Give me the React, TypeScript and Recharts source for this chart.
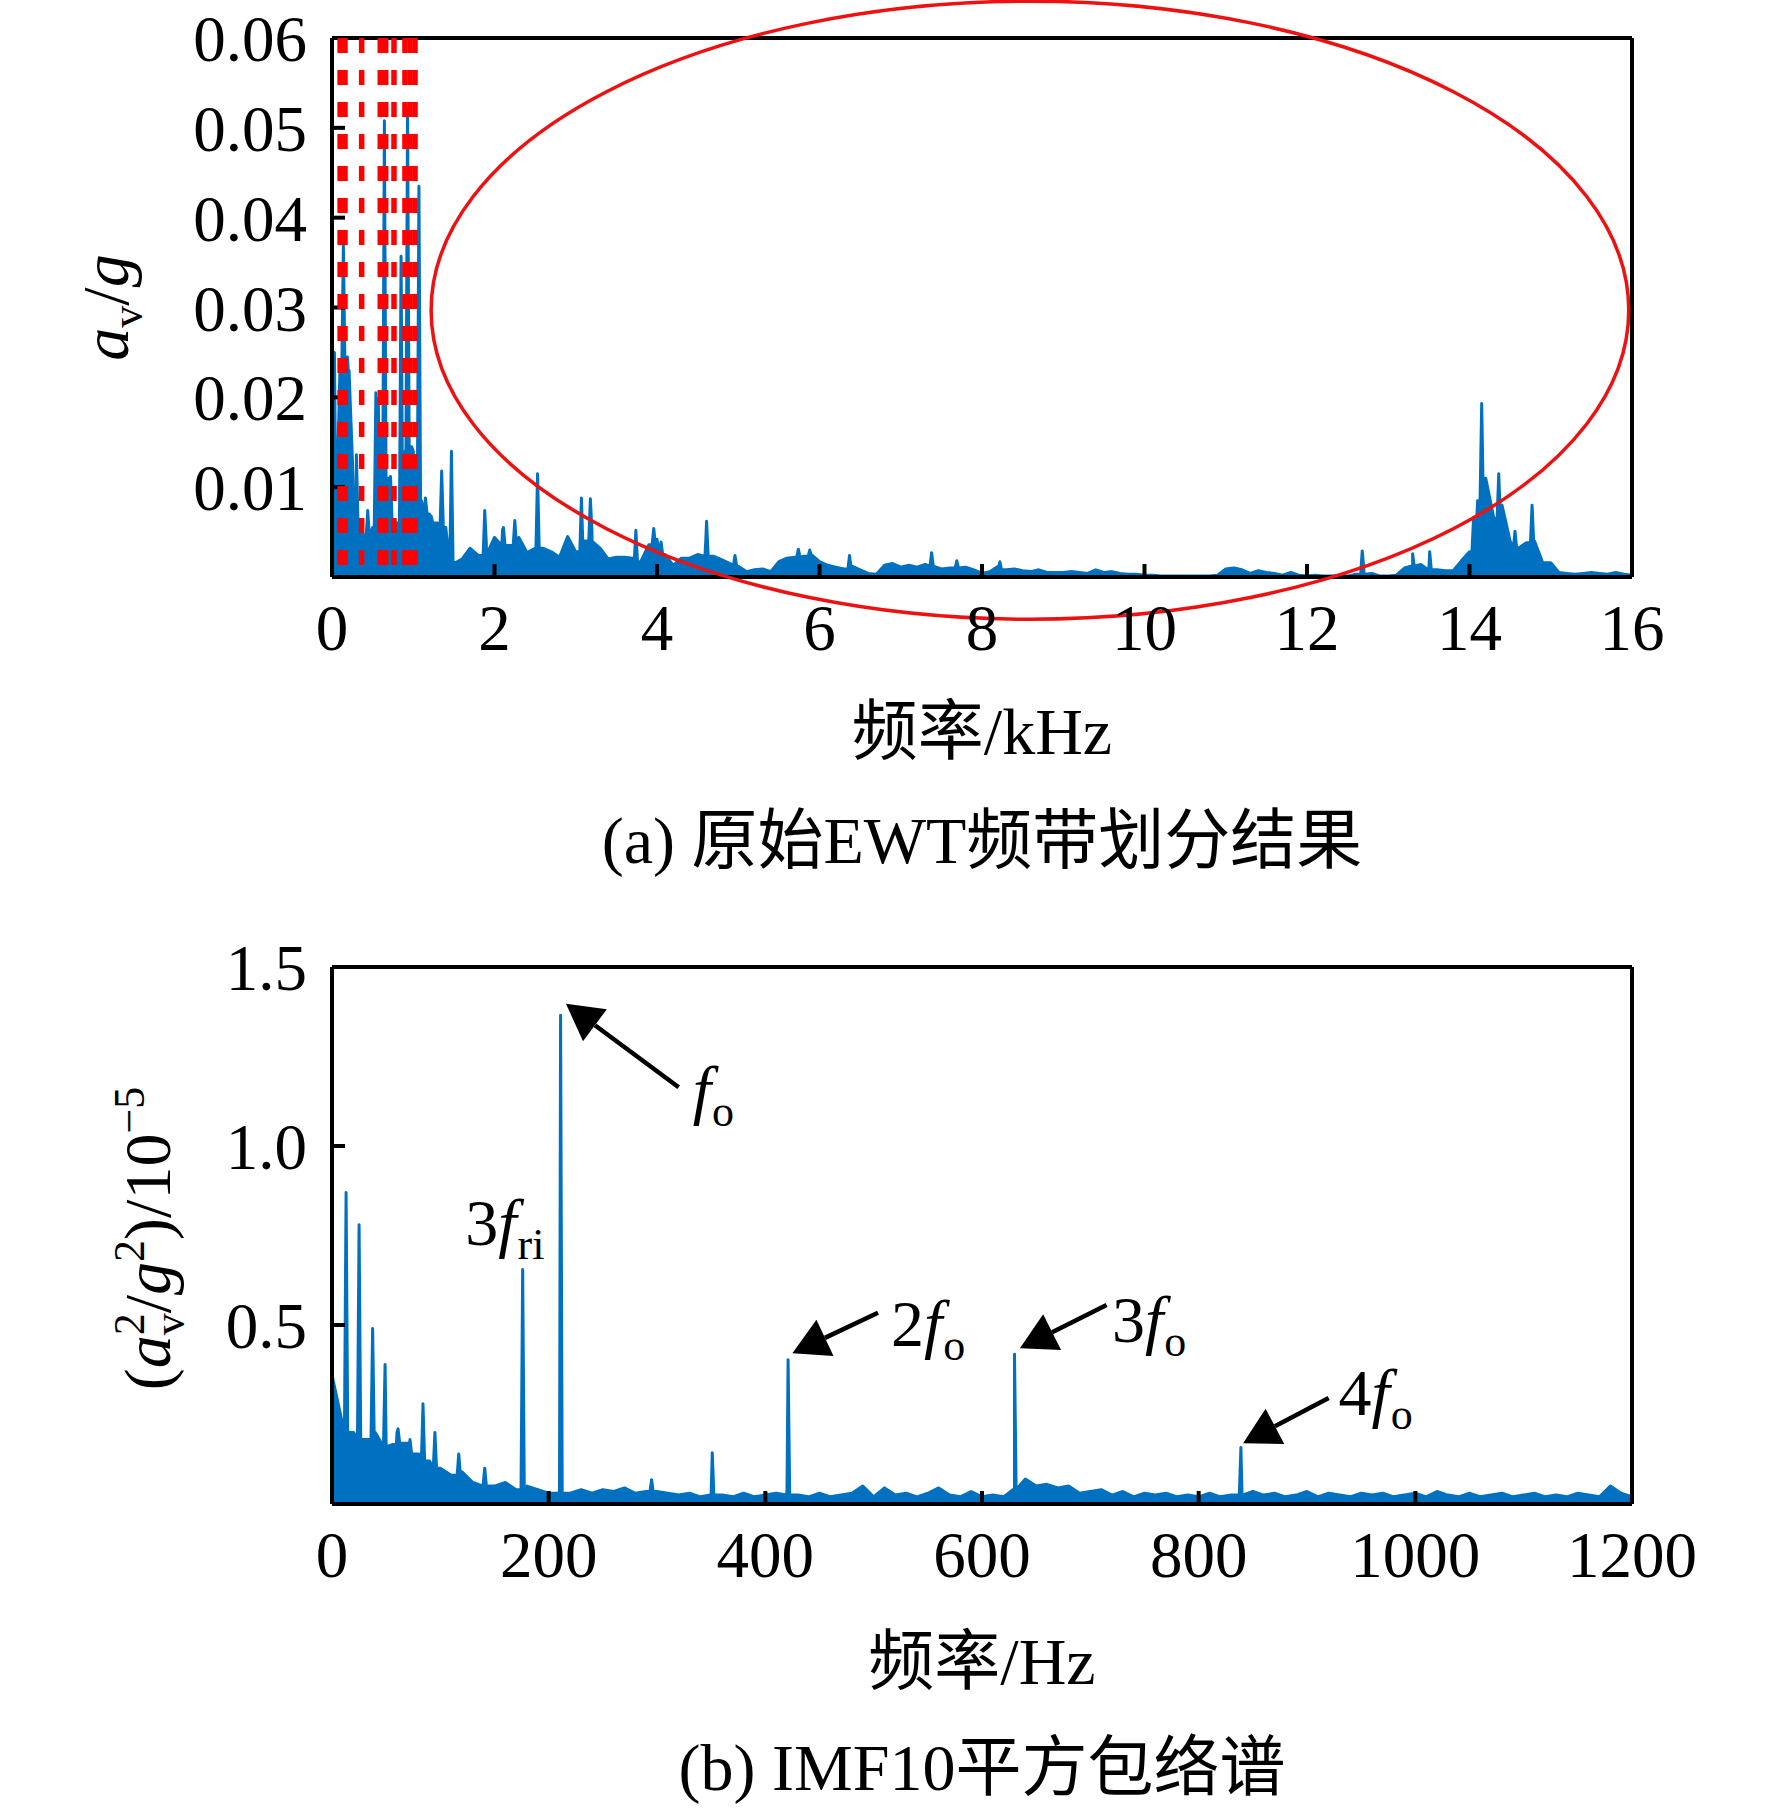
import React from 'react';
import {
  ComposedChart,
  Area,
  XAxis,
  YAxis,
  ReferenceLine,
  ReferenceArea,
  ReferenceDot,
} from 'recharts';

const serif = "'Liberation Serif', 'Times New Roman', 'Noto Sans CJK SC', serif";
const blue = '#0070C0';
const red = '#ff0000';

// (a) spectrum 0-16 kHz, amplitude in 1e-4 g, one value every 0.1 kHz
const topStep = 0.1;
const topBase = [
  50, 240, 230, 60, 45, 55, 160, 110, 60, 140,
  140, 85, 70, 60, 55, 15, 20, 32, 24, 36,
  44, 53, 35, 44, 27, 32, 32, 28, 22, 45,
  28, 40, 50, 32, 20, 22, 22, 21, 17, 36,
  42, 25, 13, 21, 21, 25, 40, 23, 19, 15,
  12, 6, 8, 9, 6, 17, 21, 22, 23, 25,
  17, 13, 11, 9, 12, 8, 4, 3, 13, 15,
  11, 13, 11, 14, 12, 9, 10, 14, 11, 8,
  4, 6, 12, 8, 9, 7, 6, 8, 5, 5,
  5, 6, 5, 4, 8, 5, 6, 4, 3, 3,
  2, 2, 1, 1, 1, 1, 1, 1, 1, 2,
  9, 10, 8, 4, 7, 5, 4, 2, 5, 2,
  1, 2, 1, 1, 2, 1, 3, 8, 4, 1,
  1, 2, 10, 12, 14, 9, 8, 7, 7, 18,
  28, 85, 110, 65, 80, 40, 32, 38, 40, 16,
  16, 5, 4, 3, 4, 5, 4, 3, 5, 3,
  2,
];
// narrow spectral lines [kHz, 1e-4 g]
const topPeaks: [number, number][] = [
  [0.03, 250], [0.14, 369], [0.19, 245], [0.3, 136], [0.44, 74], [0.48, 50],
  [0.54, 205], [0.57, 199], [0.645, 508], [0.72, 112], [0.85, 357], [0.93, 520],
  [0.98, 145], [1.07, 435], [1.15, 88], [1.22, 68], [1.35, 118], [1.47, 140],
  [1.88, 74], [2.11, 55], [2.25, 63], [2.53, 115], [3.07, 88], [3.18, 87],
  [3.74, 52], [3.96, 54], [4.05, 39], [4.61, 62], [4.96, 24], [5.74, 31],
  [5.88, 30], [6.37, 24], [7.38, 27], [7.69, 18], [8.22, 17], [12.68, 29],
  [13.3, 26], [13.51, 28], [14.05, 66], [14.15, 193], [14.36, 115], [14.56, 51],
  [14.77, 80],
];
const topLineHalfWidth = 0.02;
const ewtBounds = [0.1, 0.16, 0.365, 0.594, 0.661, 0.763, 0.898, 0.96, 1.022];
const topXTicks = [0, 2, 4, 6, 8, 10, 12, 14, 16];
const topYTicks = [100, 200, 300, 400, 500, 600];
const ellipseBox = { x1: 1.22, x2: 15.96, y1: -47, y2: 641 };

// (b) squared envelope spectrum 0-1200 Hz, in 1e-5, one value every 10 Hz
const botStep = 10;
const botBase = [
  0.36, 0.22, 0.2, 0.18, 0.2, 0.16, 0.2, 0.17, 0.14, 0.12,
  0.1, 0.08, 0.09, 0.06, 0.07, 0.05, 0.06, 0.04, 0.05, 0.04,
  0.03, 0.04, 0.03, 0.04, 0.03, 0.04, 0.035, 0.045, 0.03, 0.035,
  0.035, 0.03, 0.025, 0.03, 0.02, 0.03, 0.025, 0.02, 0.03, 0.02,
  0.025, 0.03, 0.04, 0.025, 0.02, 0.03, 0.02, 0.025, 0.03, 0.05,
  0.02, 0.045, 0.025, 0.03, 0.02, 0.03, 0.045, 0.025, 0.02, 0.035,
  0.02, 0.025, 0.02, 0.04, 0.07, 0.05, 0.055, 0.045, 0.05, 0.03,
  0.035, 0.04, 0.025, 0.035, 0.02, 0.03, 0.025, 0.03, 0.02, 0.025,
  0.02, 0.03, 0.02, 0.025, 0.03, 0.035, 0.025, 0.03, 0.02, 0.025,
  0.035, 0.02, 0.03, 0.025, 0.02, 0.03, 0.025, 0.03, 0.02, 0.025,
  0.03, 0.02, 0.035, 0.025, 0.02, 0.03, 0.02, 0.025, 0.03, 0.02,
  0.025, 0.03, 0.02, 0.025, 0.02, 0.03, 0.025, 0.02, 0.05, 0.03,
  0.02,
];
const botPeaks: [number, number][] = [
  [13, 0.87], [25, 0.78], [37.5, 0.49], [49, 0.39], [61, 0.21], [72, 0.18],
  [84, 0.28], [95, 0.2], [117, 0.14], [141, 0.1], [176, 0.655], [211, 1.365],
  [295, 0.068], [351, 0.143], [421, 0.403], [630, 0.418], [839, 0.158],
];
const botLineHalfWidth = 1.5;
const botXTicks = [0, 200, 400, 600, 800, 1000, 1200];
const botYTicks = [0.5, 1, 1.5];

// arrows: tail -> tip, in data units
const arrows = [
  { tail: [320, 1.164], tip: [216, 1.397] },
  { tail: [504, 0.534], tip: [425, 0.421] },
  { tail: [715, 0.556], tip: [635, 0.435] },
  { tail: [920, 0.296], tip: [841, 0.17] },
];
// labels: coefficient, subscript, baseline start
const marks = [
  { pre: '', sub: 'o', x: 333, y: 1.095 },
  { pre: '3', sub: 'ri', x: 123, y: 0.723 },
  { pre: '2', sub: 'o', x: 516, y: 0.441 },
  { pre: '3', sub: 'o', x: 720, y: 0.453 },
  { pre: '4', sub: 'o', x: 929, y: 0.249 },
];

// each spectral line sits on the lower of the two neighbouring grid values
const buildData = (base: number[], step: number, peaks: [number, number][], half: number) => {
  const pts = base.map((v, i) => ({ f: +(i * step).toFixed(3), v }));
  peaks.forEach(([f, v]) => {
    const i = Math.floor(f / step);
    const floor = Math.min(base[i], base[Math.min(i + 1, base.length - 1)]);
    pts.push({ f: f - half, v: floor }, { f, v }, { f: f + half, v: floor });
  });
  return pts.sort((a, b) => a.f - b.f);
};

const topData = buildData(topBase, topStep, topPeaks, topLineHalfWidth);
const botData = buildData(botBase, botStep, botPeaks, botLineHalfWidth);

const axisLine = { stroke: '#000', strokeWidth: 4 };
const tickLine = { stroke: '#000', strokeWidth: 4 };
const tickStyle = { fill: '#000', fontSize: 65, fontFamily: serif };

const xTitle = (title: string, caption: string, dTitle: number, dCaption: number) =>
  ({ viewBox }: any) => {
    const cx = viewBox.x + viewBox.width / 2;
    return (
      <g>
        <text x={cx} y={viewBox.y + dTitle} textAnchor='middle' fontFamily={serif} fontSize={66} fill='#000'>
          {title}
        </text>
        <text x={cx} y={viewBox.y + dCaption} textAnchor='middle' fontFamily={serif} fontSize={66} fill='#000'>
          {caption}
        </text>
      </g>
    );
  };

const TopYTitle = ({ viewBox }: any) => {
  const cx = viewBox.x + 128;
  const cy = viewBox.y + viewBox.height / 2;
  return (
    <text transform={`translate(${cx},${cy}) rotate(-90)`} textAnchor='middle' fontFamily={serif} fontSize={66} fill='#000'>
      <tspan fontStyle='italic'>a</tspan>
      <tspan fontSize={44} dy={14}>v</tspan>
      <tspan dy={-14}>/</tspan>
      <tspan fontStyle='italic'>g</tspan>
    </text>
  );
};

const BotYTitle = ({ viewBox }: any) => {
  const cx = viewBox.x + 170;
  const cy = viewBox.y + viewBox.height / 2 + 3;
  return (
    <text transform={`translate(${cx},${cy}) rotate(-90)`} textAnchor='middle' fontFamily={serif} fontSize={66} fill='#000'>
      <tspan>(</tspan>
      <tspan fontStyle='italic'>a</tspan>
      <tspan fontSize={44} dy={-26}>2</tspan>
      <tspan fontSize={44} dx={-22} dy={40}>v</tspan>
      <tspan dy={-14}>/</tspan>
      <tspan fontStyle='italic'>g</tspan>
      <tspan fontSize={44} dy={-26}>2</tspan>
      <tspan dy={26}>)/10</tspan>
      <tspan fontSize={44} dy={-26}>−5</tspan>
    </text>
  );
};

const Ellipse = ({ x, y, width, height }: any) => (
  <ellipse cx={x + width / 2} cy={y + height / 2} rx={width / 2} ry={height / 2} fill='none' stroke='#ee1111' strokeWidth={3.5} />
);

const Arrow = ({ x1, y1, x2, y2 }: any) => {
  const len = Math.hypot(x2 - x1, y2 - y1);
  const ux = (x2 - x1) / len;
  const uy = (y2 - y1) / len;
  const bx = x2 - ux * 36;
  const by = y2 - uy * 36;
  const px = -uy * 20;
  const py = ux * 20;
  return (
    <g>
      <line x1={x1} y1={y1} x2={bx} y2={by} stroke='#000' strokeWidth={4.5} />
      <polygon points={`${x2},${y2} ${bx + px},${by + py} ${bx - px},${by - py}`} fill='#000' />
    </g>
  );
};

const markShape = (pre: string, sub: string) => ({ cx, cy }: any) => (
  <text x={cx} y={cy} fontFamily={serif} fontSize={66} fill='#000'>
    {pre ? <tspan>{pre}</tspan> : null}
    <tspan fontStyle='italic'>f</tspan>
    <tspan fontSize={44} dx={1} dy={14}>{sub}</tspan>
  </text>
);

const TopChart = () => (
  <ComposedChart width={1772} height={900} data={topData} margin={{ top: 37, right: 139, bottom: 223, left: 0 }}>
    <XAxis
      dataKey='f'
      type='number'
      domain={[0, 16]}
      ticks={topXTicks}
      allowDataOverflow
      height={100}
      axisLine={axisLine}
      tickLine={tickLine}
      tickSize={-13}
      tickMargin={40}
      tick={tickStyle}
      label={{ content: xTitle('频率/kHz', '(a) 原始EWT频带划分结果', 177, 286) }}
    />
    <XAxis xAxisId='top' orientation='top' type='number' domain={[0, 16]} ticks={topXTicks} allowDataOverflow height={1} axisLine={axisLine} tickLine={tickLine} tickSize={-13} tick={false} />
    <YAxis
      type='number'
      domain={[0, 600]}
      ticks={topYTicks}
      allowDataOverflow
      width={332}
      axisLine={axisLine}
      tickLine={tickLine}
      tickSize={-13}
      tickMargin={38}
      tick={tickStyle}
      tickFormatter={(v: number) => (v / 10000).toFixed(2)}
      label={{ content: TopYTitle }}
    />
    <YAxis yAxisId='right' orientation='right' type='number' domain={[0, 600]} ticks={topYTicks} allowDataOverflow width={1} axisLine={axisLine} tickLine={tickLine} tickSize={-13} tick={false} />
    <Area type='linear' dataKey='v' stroke={blue} strokeWidth={3} strokeLinejoin='round' fill={blue} fillOpacity={1} dot={false} activeDot={false} isAnimationActive={false} />
    {ewtBounds.map((b) => (
      <ReferenceLine
        key={b}
        segment={[{ x: b, y: 600 }, { x: b, y: 0 }]}
        stroke={red}
        strokeWidth={5.5}
        strokeDasharray='15 17'
        ifOverflow='visible'
        zIndex={600}
      />
    ))}
    <ReferenceArea {...ellipseBox} ifOverflow='visible' shape={Ellipse} zIndex={600} />
  </ComposedChart>
);

const BottomChart = () => (
  <ComposedChart width={1772} height={910} data={botData} margin={{ top: 66, right: 139, bottom: 206, left: 0 }}>
    <XAxis
      dataKey='f'
      type='number'
      domain={[0, 1200]}
      ticks={botXTicks}
      allowDataOverflow
      height={100}
      axisLine={axisLine}
      tickLine={tickLine}
      tickSize={-13}
      tickMargin={40}
      tick={tickStyle}
      label={{ content: xTitle('频率/Hz', '(b) IMF10平方包络谱', 180, 286) }}
    />
    <XAxis xAxisId='top' orientation='top' type='number' domain={[0, 1200]} ticks={botXTicks} allowDataOverflow height={1} axisLine={axisLine} tickLine={tickLine} tickSize={-13} tick={false} />
    <YAxis
      type='number'
      domain={[0, 1.5]}
      ticks={botYTicks}
      allowDataOverflow
      width={332}
      axisLine={axisLine}
      tickLine={tickLine}
      tickSize={-13}
      tickMargin={38}
      tick={tickStyle}
      tickFormatter={(v: number) => v.toFixed(1)}
      label={{ content: BotYTitle }}
    />
    <YAxis yAxisId='right' orientation='right' type='number' domain={[0, 1.5]} ticks={botYTicks} allowDataOverflow width={1} axisLine={axisLine} tickLine={tickLine} tickSize={-13} tick={false} />
    <Area type='linear' dataKey='v' stroke={blue} strokeWidth={3} strokeLinejoin='round' fill={blue} fillOpacity={1} dot={false} activeDot={false} isAnimationActive={false} />
    {arrows.map((a, i) => (
      <ReferenceLine
        key={i}
        segment={[{ x: a.tail[0], y: a.tail[1] }, { x: a.tip[0], y: a.tip[1] }]}
        ifOverflow='visible'
        shape={Arrow}
        zIndex={600}
      />
    ))}
    {marks.map((m, i) => (
      <ReferenceDot key={i} x={m.x} y={m.y} r={0} ifOverflow='visible' shape={markShape(m.pre, m.sub)} zIndex={600} />
    ))}
  </ComposedChart>
);

export default function App() {
  return (
    <div style={{ position: 'absolute', left: 0, top: 0, width: 1772, height: 1810, background: '#fff' }}>
      <div style={{ position: 'absolute', left: 0, top: 0 }}>
        <TopChart />
      </div>
      <div style={{ position: 'absolute', left: 0, top: 900 }}>
        <BottomChart />
      </div>
    </div>
  );
}
